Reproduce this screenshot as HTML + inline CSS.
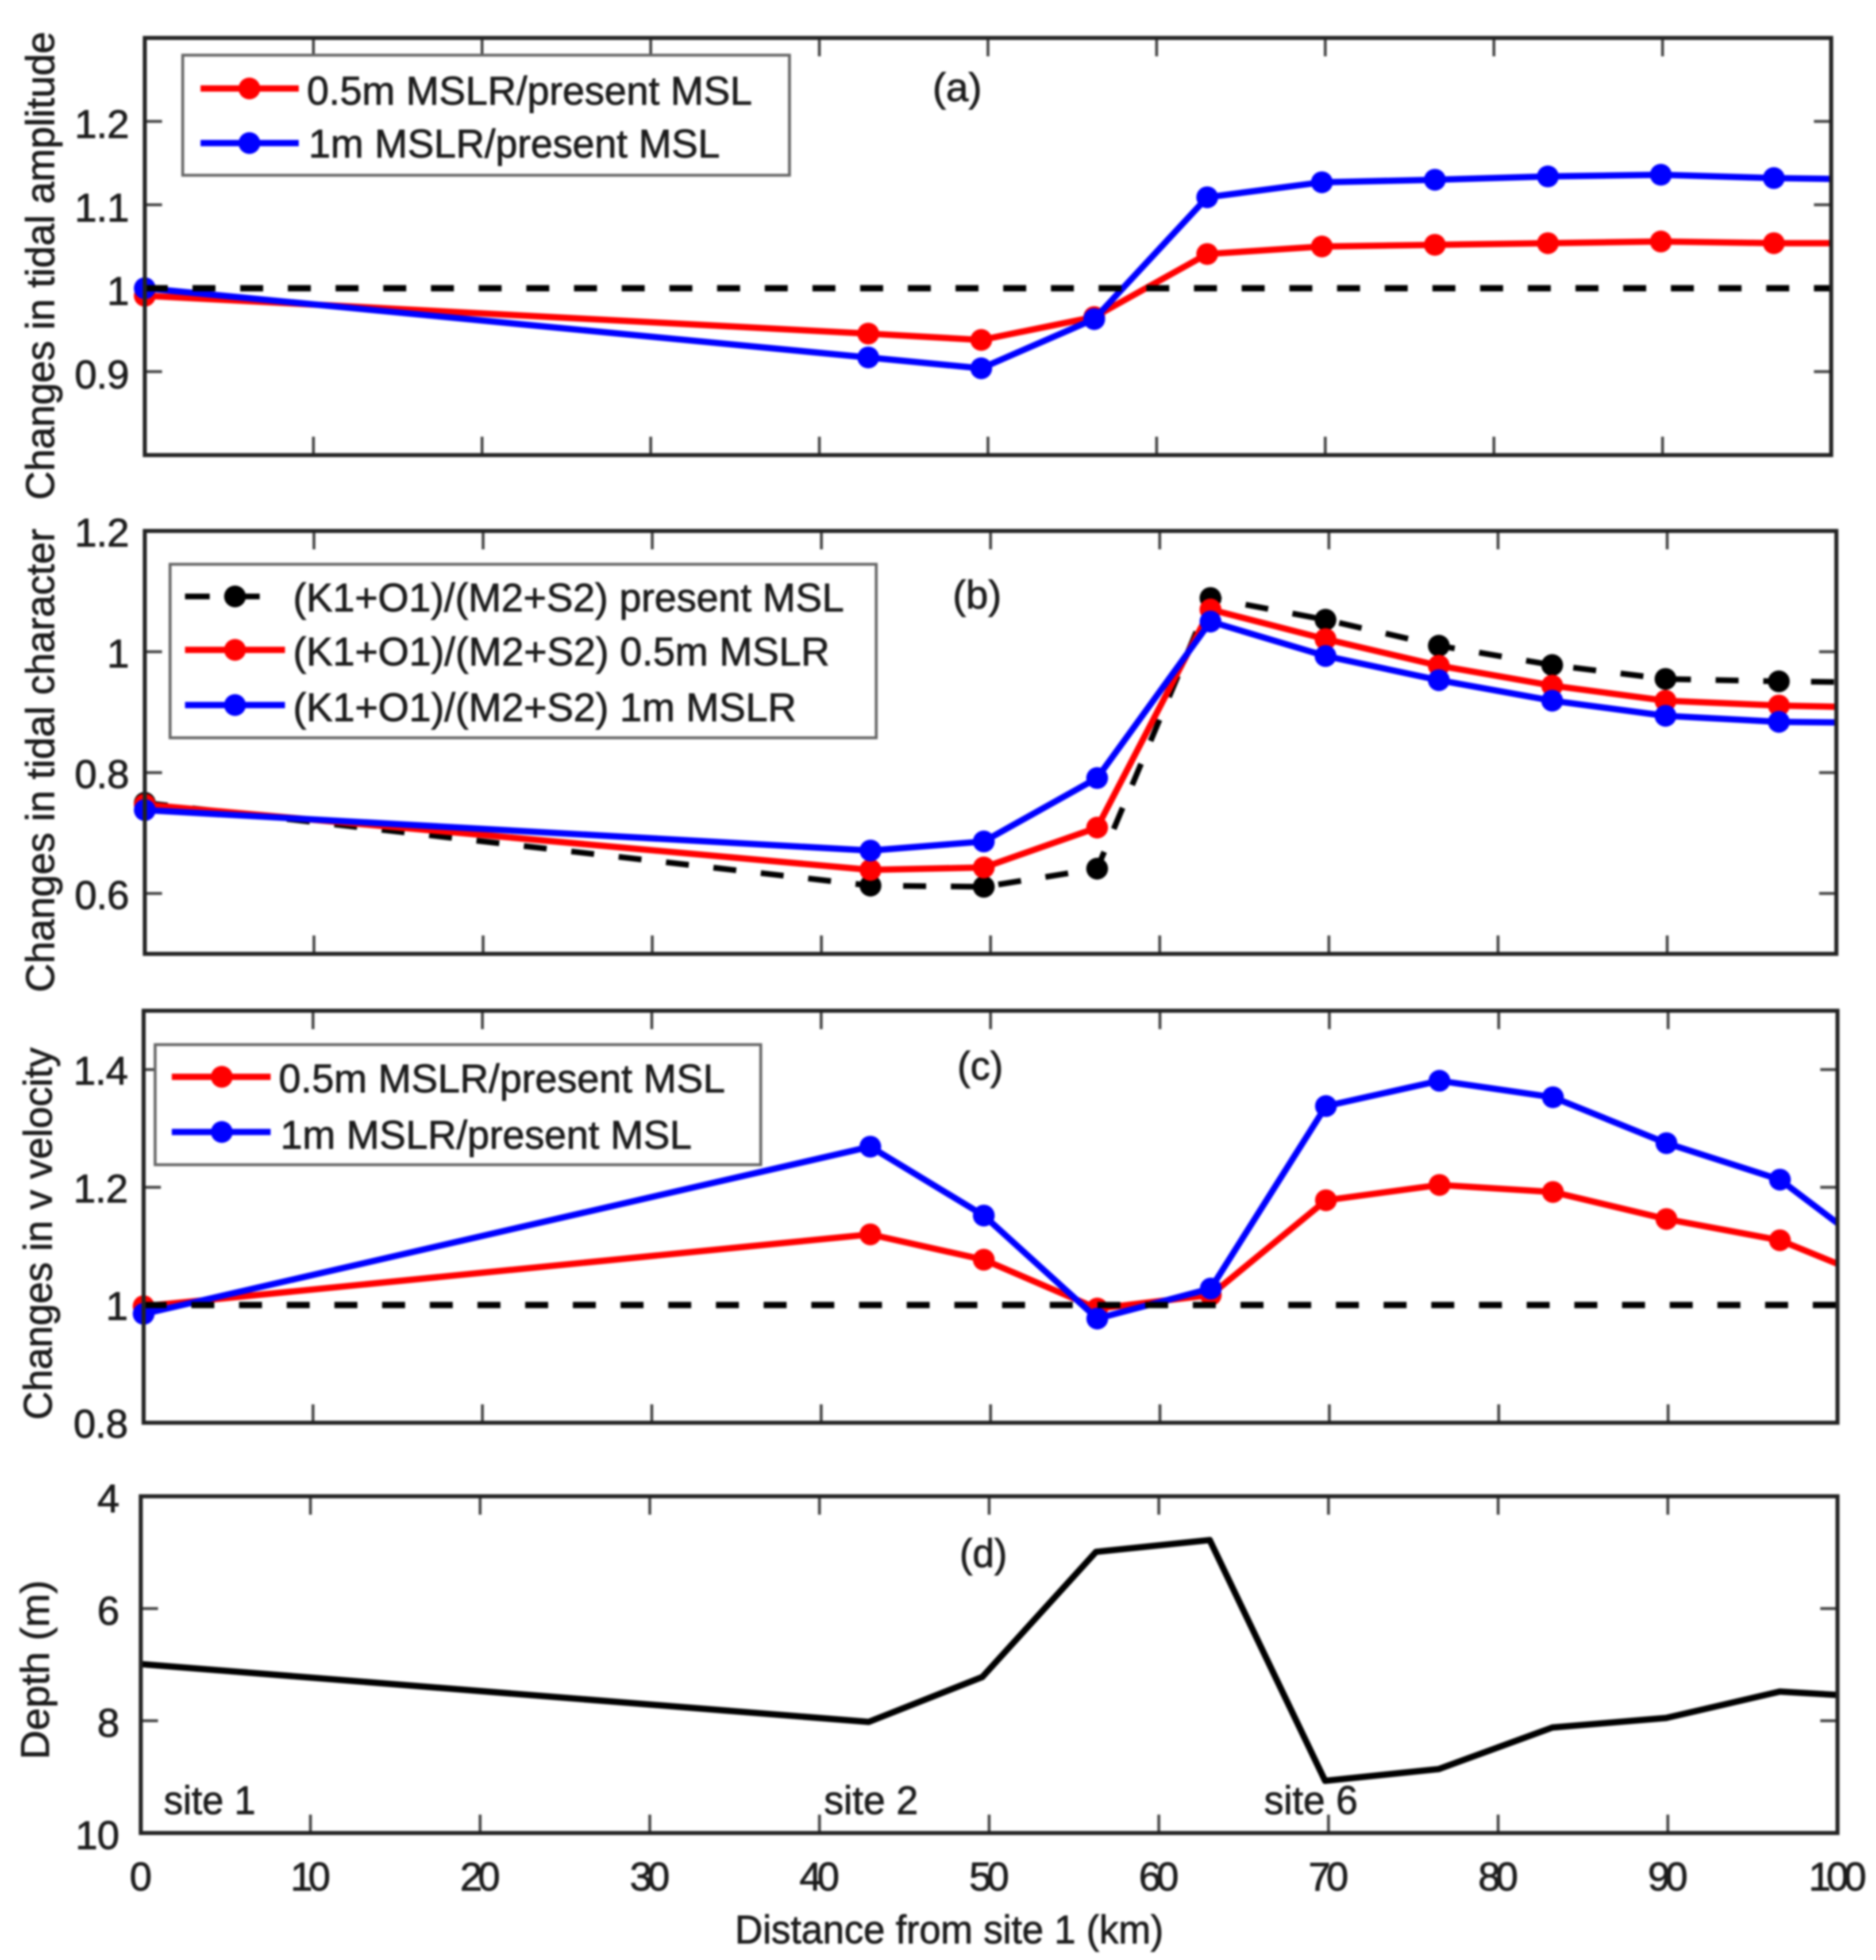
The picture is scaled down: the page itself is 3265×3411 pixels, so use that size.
<!DOCTYPE html>
<html lang="en">
<head>
<meta charset="utf-8">
<title>Changes in tidal amplitude, tidal character, v velocity and depth along distance from site 1</title>
<style>
html,body{margin:0;padding:0;background:#fff;}
svg{display:block;filter:blur(1.8px);}
text{font-family:"Liberation Sans",Arial,sans-serif;fill:#1c1c1c;stroke:#1c1c1c;stroke-width:1;font-size:70px;}
.frame{fill:none;stroke:#222;stroke-width:7;}
.legend-box{fill:#fff;stroke:#666;stroke-width:5;}
.tick{stroke:#444;stroke-width:5;}
</style>
</head>
<body>
<svg xmlns="http://www.w3.org/2000/svg" width="3265" height="3411" viewBox="0 0 3265 3411">
  <rect x="0" y="0" width="3265" height="3411" fill="#fff"/>

  <g id="panel-a">
    <g id="marks-a"></g>
    <rect class="frame" x="252" y="66" width="2935" height="726"/>
    <text transform="translate(94,870) rotate(-90)" textLength="815" lengthAdjust="spacingAndGlyphs">Changes in tidal amplitude</text>
    <text x="1623" y="176" textLength="86" lengthAdjust="spacingAndGlyphs">(a)</text>
    <g>
      <rect class="legend-box" x="318" y="96" width="1056" height="209"/>
      <line x1="349" y1="154" x2="520" y2="154" stroke="#f00" stroke-width="11"/>
      <circle cx="434" cy="154" r="19" fill="#f00"/>
      <text x="534" y="182" textLength="775" lengthAdjust="spacingAndGlyphs">0.5m MSLR/present MSL</text>
      <line x1="349" y1="249" x2="520" y2="249" stroke="#00f" stroke-width="11"/>
      <circle cx="434" cy="249" r="19" fill="#00f"/>
      <text x="537" y="274" textLength="716" lengthAdjust="spacingAndGlyphs">1m MSLR/present MSL</text>
    </g>
  </g>

  <g id="panel-b">
    <g id="marks-b"></g>
    <rect class="frame" x="252" y="924" width="2944" height="736"/>
    <text transform="translate(94,1727) rotate(-90)" textLength="807" lengthAdjust="spacingAndGlyphs">Changes in tidal character</text>
    <text x="1658" y="1059" textLength="85" lengthAdjust="spacingAndGlyphs">(b)</text>
    <g>
      <rect class="legend-box" x="296" y="982" width="1229" height="302"/>
      <line x1="322" y1="1038" x2="496" y2="1038" stroke="#000" stroke-width="10" stroke-dasharray="43 44"/>
      <circle cx="409" cy="1038" r="19" fill="#000"/>
      <text x="510" y="1064" textLength="959" lengthAdjust="spacingAndGlyphs">(K1+O1)/(M2+S2) present MSL</text>
      <line x1="322" y1="1131" x2="496" y2="1131" stroke="#f00" stroke-width="11"/>
      <circle cx="409" cy="1131" r="19" fill="#f00"/>
      <text x="510" y="1158" textLength="934" lengthAdjust="spacingAndGlyphs">(K1+O1)/(M2+S2) 0.5m MSLR</text>
      <line x1="322" y1="1227" x2="496" y2="1227" stroke="#00f" stroke-width="11"/>
      <circle cx="409" cy="1227" r="19" fill="#00f"/>
      <text x="510" y="1255" textLength="876" lengthAdjust="spacingAndGlyphs">(K1+O1)/(M2+S2) 1m MSLR</text>
    </g>
  </g>

  <g id="panel-c">
    <g id="marks-c"></g>
    <rect class="frame" x="250" y="1759" width="2948" height="717"/>
    <text transform="translate(90,2471) rotate(-90)" textLength="648" lengthAdjust="spacingAndGlyphs">Changes in v velocity</text>
    <text x="1666" y="1879" textLength="80" lengthAdjust="spacingAndGlyphs">(c)</text>
    <g>
      <rect class="legend-box" x="270" y="1818" width="1054" height="209"/>
      <line x1="299" y1="1874" x2="471" y2="1874" stroke="#f00" stroke-width="11"/>
      <circle cx="386" cy="1874" r="19" fill="#f00"/>
      <text x="485" y="1901" textLength="777" lengthAdjust="spacingAndGlyphs">0.5m MSLR/present MSL</text>
      <line x1="299" y1="1970" x2="471" y2="1970" stroke="#00f" stroke-width="11"/>
      <circle cx="386" cy="1970" r="19" fill="#00f"/>
      <text x="488" y="1999" textLength="716" lengthAdjust="spacingAndGlyphs">1m MSLR/present MSL</text>
    </g>
  </g>

  <g id="panel-d">
    <g id="marks-d"></g>
    <rect class="frame" x="245" y="2604" width="2953" height="586"/>
    <text transform="translate(85,3062) rotate(-90)" textLength="312" lengthAdjust="spacingAndGlyphs">Depth (m)</text>
    <text x="1670" y="2727" textLength="83" lengthAdjust="spacingAndGlyphs">(d)</text>
    <text x="285" y="3157" textLength="160" lengthAdjust="spacingAndGlyphs">site 1</text>
    <text x="1434" y="3157" textLength="164" lengthAdjust="spacingAndGlyphs">site 2</text>
    <text x="2200" y="3157" textLength="163" lengthAdjust="spacingAndGlyphs">site 6</text>
    <text x="1279" y="3382" textLength="746" lengthAdjust="spacingAndGlyphs">Distance from site 1 (km)</text>
  </g>
</svg>

<script>
// Shared x positions (km)
const distanceKm = [0, 42.9, 49.6, 56.3, 63, 69.8, 76.5, 83.2, 89.9, 96.6, 100];
const xTickValues = [0, 10, 20, 30, 40, 50, 60, 70, 80, 90, 100];

// Panel (a) changes in tidal amplitude
const amplitudeRed = [0.991, 0.9456, 0.938, 0.9655, 1.041, 1.05, 1.052, 1.054, 1.056, 1.054, 1.054];
const amplitudeBlue = [1.0, 0.917, 0.904, 0.963, 1.109, 1.127, 1.13, 1.134, 1.136, 1.132, 1.131];
const amplitudeTicks = [1.2, 1.1, 1, 0.9];
const amplitudeReference = [1, 1];

// Panel (b) changes in tidal character
const characterBlack = [0.75, 0.613, 0.611, 0.641, 1.089, 1.053, 1.01, 0.978, 0.955, 0.951, 0.95];
const characterRed = [0.747, 0.639, 0.643, 0.709, 1.07, 1.021, 0.977, 0.944, 0.919, 0.911, 0.909];
const characterBlue = [0.738, 0.671, 0.686, 0.791, 1.05, 0.993, 0.953, 0.919, 0.894, 0.884, 0.883];
const characterTicks = [1.2, 1, 0.8, 0.6];

// Panel (c) changes in v velocity
const velocityRed = [0.998, 1.12, 1.077, 0.994, 1.017, 1.178, 1.204, 1.192, 1.146, 1.11, 1.07];
const velocityBlue = [0.985, 1.269, 1.152, 0.977, 1.028, 1.338, 1.381, 1.353, 1.275, 1.213, 1.139];
const velocityTicks = [1.4, 1.2, 1, 0.8];
const velocityReference = [1, 1];

// Panel (d) depth
const depthMeters = [6.99, 8.02, 7.22, 4.99, 4.78, 9.07, 8.86, 8.12, 7.95, 7.48, 7.54];
const depthTicks = [4, 6, 8, 10];

const SVG_NS = 'http://www.w3.org/2000/svg';

function linearScale(d0, d1, r0, r1) {
  return function (v) { return r0 + (v - d0) * (r1 - r0) / (d1 - d0); };
}

function drawAxes(group, key, sx, sy, box, ticks, labelRight, labelDy, showXLabels) {
  xTickValues.forEach(function (t) {
    if (t !== 0 && t !== 100) {
      [[box.top, box.top + 32], [box.bottom, box.bottom - 32]].forEach(function (pair) {
        const tick = document.createElementNS(SVG_NS, 'line');
        tick.setAttribute('class', 'tick');
        tick.setAttribute('x1', sx(t));
        tick.setAttribute('x2', sx(t));
        tick.setAttribute('y1', pair[0]);
        tick.setAttribute('y2', pair[1]);
        
        
        group.appendChild(tick);
      });
    }
    if (showXLabels) {
      const lab = document.createElementNS(SVG_NS, 'text');
      lab.setAttribute('x', sx(t) - 4);
      lab.setAttribute('y', 3290);
      lab.setAttribute('text-anchor', 'middle');
      lab.setAttribute('letter-spacing', '-8');
      
      
      lab.textContent = String(t);
      group.appendChild(lab);
    }
  });
  ticks.forEach(function (t) {
    [[box.left, box.left + 30], [box.right, box.right - 30]].forEach(function (pair) {
      const tick = document.createElementNS(SVG_NS, 'line');
      tick.setAttribute('class', 'tick');
      tick.setAttribute('x1', pair[0]);
      tick.setAttribute('x2', pair[1]);
      tick.setAttribute('y1', sy(t));
      tick.setAttribute('y2', sy(t));
      
      
      group.appendChild(tick);
    });
    const lab = document.createElementNS(SVG_NS, 'text');
    lab.setAttribute('x', labelRight);
    lab.setAttribute('y', sy(t) + labelDy);
    lab.setAttribute('text-anchor', 'end');
    lab.setAttribute('letter-spacing', '-1');
    
    
    lab.textContent = String(t);
    group.appendChild(lab);
  });
}

function pointsFor(sx, sy, xs, ys) {
  return xs.map(function (x, i) { return sx(x) + ',' + sy(ys[i]); }).join(' ');
}

function drawSeries(group, name, sx, sy, values, color, dashed, markers, width) {
  const line = document.createElementNS(SVG_NS, 'polyline');
  line.setAttribute('points', pointsFor(sx, sy, distanceKm, values));
  line.setAttribute('fill', 'none');
  line.setAttribute('stroke', color);
  line.setAttribute('stroke-width', width);
  line.setAttribute('stroke-linejoin', 'round');
  if (dashed) { line.setAttribute('stroke-dasharray', '40 43'); }
  
  
  group.appendChild(line);
  if (!markers) { return; }
  values.forEach(function (v, i) {
    if (i === values.length - 1) { return; }
    const dot = document.createElementNS(SVG_NS, 'circle');
    dot.setAttribute('cx', sx(distanceKm[i]));
    dot.setAttribute('cy', sy(v));
    dot.setAttribute('r', 19);
    dot.setAttribute('fill', color);
    
    
    group.appendChild(dot);
  });
}

function drawReference(group, name, sx, sy, values) {
  const ref = document.createElementNS(SVG_NS, 'line');
  ref.setAttribute('x1', sx(0));
  ref.setAttribute('x2', sx(100));
  ref.setAttribute('y1', sy(values[0]));
  ref.setAttribute('y2', sy(values[1]));
  ref.setAttribute('stroke', '#000');
  ref.setAttribute('stroke-width', 11);
  ref.setAttribute('stroke-dasharray', '40 43');
  
  
  group.appendChild(ref);
}

// Panel (a)
(function () {
  const box = { left: 252, right: 3187, top: 66, bottom: 792 };
  const sx = linearScale(0, 100, box.left, box.right);
  const sy = linearScale(0.8, 1.3, box.bottom, box.top);
  const g = document.getElementById('marks-a');
  drawAxes(g, 'panel-a', sx, sy, box, amplitudeTicks, 224, 29, false);
  drawSeries(g, 'amplitude-0-5m', sx, sy, amplitudeRed, '#f00', false, true, 11);
  drawSeries(g, 'amplitude-1m', sx, sy, amplitudeBlue, '#00f', false, true, 11);
  drawReference(g, 'amplitude-reference-line', sx, sy, amplitudeReference);
})();

// Panel (b)
(function () {
  const box = { left: 252, right: 3196, top: 924, bottom: 1660 };
  const sx = linearScale(0, 100, box.left, box.right);
  const sy = linearScale(0.5, 1.2, box.bottom, box.top);
  const g = document.getElementById('marks-b');
  drawAxes(g, 'panel-b', sx, sy, box, characterTicks, 224, 27, false);
  drawSeries(g, 'character-present', sx, sy, characterBlack, '#000', true, true, 10);
  drawSeries(g, 'character-0-5m', sx, sy, characterRed, '#f00', false, true, 11);
  drawSeries(g, 'character-1m', sx, sy, characterBlue, '#00f', false, true, 11);
})();

// Panel (c)
(function () {
  const box = { left: 250, right: 3198, top: 1759, bottom: 2476 };
  const sx = linearScale(0, 100, box.left, box.right);
  const sy = linearScale(0.8, 1.5, box.bottom, box.top);
  const g = document.getElementById('marks-c');
  drawAxes(g, 'panel-c', sx, sy, box, velocityTicks, 222, 26, false);
  drawSeries(g, 'velocity-0-5m', sx, sy, velocityRed, '#f00', false, true, 11);
  drawSeries(g, 'velocity-1m', sx, sy, velocityBlue, '#00f', false, true, 11);
  drawReference(g, 'velocity-reference-line', sx, sy, velocityReference);
})();

// Panel (d)
(function () {
  const box = { left: 245, right: 3198, top: 2604, bottom: 3190 };
  const sx = linearScale(0, 100, box.left, box.right);
  const sy = linearScale(4, 10, box.top, box.bottom);
  const g = document.getElementById('marks-d');
  drawAxes(g, 'panel-d', sx, sy, box, depthTicks, 207, 28, true);
  drawSeries(g, 'depth', sx, sy, depthMeters, '#000', false, false, 11);
})();
</script>
</body>
</html>
